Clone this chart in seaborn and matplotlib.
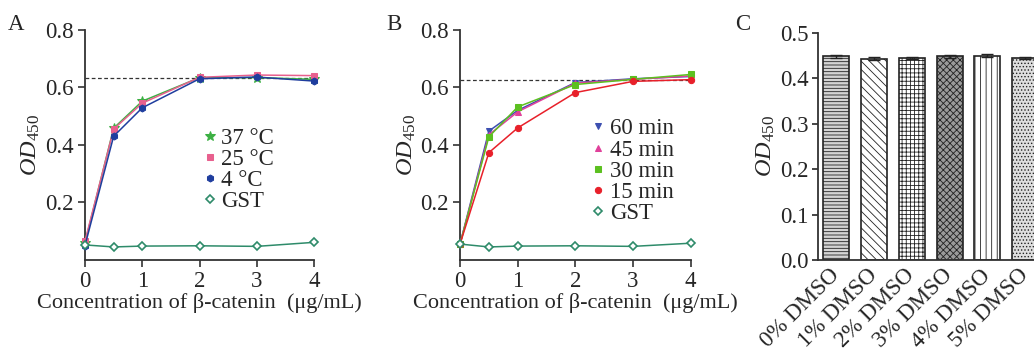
import numpy as np
import pandas as pd
import matplotlib
matplotlib.use('Agg')
import matplotlib.pyplot as plt
import seaborn as sns

# ---- data ----
conc = [0, 0.5, 1, 2, 3, 4]

temp_37 = [0.060, 0.458, 0.552, 0.634, 0.634, 0.628]
temp_25 = [0.065, 0.455, 0.545, 0.635, 0.643, 0.641]
temp_4 = [0.050, 0.430, 0.529, 0.630, 0.636, 0.622]
gst_a = [0.052, 0.045, 0.048, 0.049, 0.047, 0.061]
plateau_a = 0.634

min_60 = [0.055, 0.448, 0.520, 0.617, 0.630, 0.638]
min_45 = [0.055, 0.435, 0.515, 0.615, 0.628, 0.640]
min_30 = [0.055, 0.428, 0.532, 0.610, 0.628, 0.645]
min_15 = [0.055, 0.373, 0.459, 0.582, 0.621, 0.627]
gst_b = [0.055, 0.045, 0.048, 0.049, 0.047, 0.058]
plateau_b = 0.624

dmso_labels = ['0% DMSO', '1% DMSO', '2% DMSO', '3% DMSO', '4% DMSO', '5% DMSO']
dmso_od = [0.449, 0.444, 0.445, 0.449, 0.450, 0.445]
dmso_err = [0.003, 0.004, 0.003, 0.003, 0.003, 0.003]

sns.set_style('ticks')
plt.rcParams['font.family'] = ['Liberation Serif', 'DejaVu Serif']
plt.rcParams['mathtext.fontset'] = 'custom'
plt.rcParams['mathtext.rm'] = 'Liberation Serif'
plt.rcParams['mathtext.it'] = 'Liberation Serif:italic'
plt.rcParams['hatch.linewidth'] = 0.6

ylab = r'$\mathit{OD}_{\mathrm{450}}$'
fs = 16.5

fig = plt.figure(figsize=(10.34, 3.56), dpi=100)
axA = fig.add_axes([0.0822, 0.270, 0.2215, 0.646])
axB = fig.add_axes([0.4449, 0.270, 0.2231, 0.646])
axC = fig.add_axes([0.7911, 0.270, 0.2180, 0.637])


def line_panel(ax, series, gst, plateau):
    ax.axhline(plateau, color='#333333', ls=(0, (3, 2)), lw=0.9, zorder=1)
    for vals, lab, col, mk, ms in series:
        sns.lineplot(x=conc, y=vals, ax=ax, color=col, marker=mk, markersize=ms,
                     markeredgecolor=col, lw=1.1, label=lab, clip_on=False, zorder=3)
    sns.lineplot(x=conc, y=gst, ax=ax, color='#2e8b6a', marker='D', markersize=4.5,
                 markerfacecolor='white', markeredgecolor='#2e8b6a', markeredgewidth=1.2,
                 lw=1.1, label='GST', clip_on=False, zorder=3)
    ax.set_xlim(0, 4)
    ax.set_ylim(0, 0.8)
    ax.set_xticks([0, 1, 2, 3, 4])
    ax.set_yticks([0.2, 0.4, 0.6, 0.8])
    ax.set_yticklabels(['0.2', '0.4', '0.6', '0.8'])
    ax.tick_params(labelsize=fs, direction='out', length=5, width=1.2, color='#333333', pad=3)
    ax.set_xlabel('Concentration of β-catenin  (μg/mL)', fontsize=16, labelpad=1)
    ax.set_ylabel(ylab, fontsize=fs + 1, labelpad=2)
    for s in ['top', 'right']:
        ax.spines[s].set_visible(False)
    for s in ['left', 'bottom']:
        ax.spines[s].set_linewidth(1.3)
        ax.spines[s].set_color('#333333')


def small_legend(ax, x, y):
    leg = ax.legend(loc='upper left', bbox_to_anchor=(x, y), frameon=False, fontsize=fs,
                    handlelength=0.5, handletextpad=0.25, labelspacing=0.0, borderpad=0,
                    borderaxespad=0)
    for ln in leg.get_lines():
        ln.set_linestyle('none')


line_panel(axA, [(temp_37, '37 °C', '#3cb043', '*', 7),
                 (temp_25, '25 °C', '#e8608e', 's', 5),
                 (temp_4, '4 °C', '#1f3d9e', 'h', 5)], gst_a, plateau_a)
small_legend(axA, 0.52, 0.575)

line_panel(axB, [(min_60, '60 min', '#3c4fb0', 'v', 5),
                 (min_45, '45 min', '#e0409a', '^', 5),
                 (min_30, '30 min', '#5cc020', 's', 5),
                 (min_15, '15 min', '#e8202a', 'o', 4.5)], gst_b, plateau_b)
small_legend(axB, 0.575, 0.615)

# ---- panel C ----
df_c = pd.DataFrame({'group': dmso_labels, 'od': dmso_od})
sns.barplot(data=df_c, x='group', y='od', ax=axC, color='white', width=0.69,
            edgecolor='#222222', linewidth=1.2, errorbar=None)
fills = ['#d4d4d4', 'white', 'white', '#9a9a9a', 'white', '#dedede']
hatches = ['-----', '\\\\\\\\', '++++', 'xxxxx', '|||', '.....']
for p, fc, h in zip(axC.patches, fills, hatches):
    p.set_facecolor(fc)
    p.set_hatch(h)
axC.errorbar(range(len(dmso_od)), dmso_od, yerr=dmso_err, fmt='none',
             ecolor='#222222', elinewidth=1, capsize=4, capthick=1)
axC.set_xlim(-0.48, 5.48)
axC.set_ylim(0, 0.5)
axC.set_yticks([0, 0.1, 0.2, 0.3, 0.4, 0.5])
axC.set_yticklabels(['0.0', '0.1', '0.2', '0.3', '0.4', '0.5'])
axC.set_xlabel('')
axC.set_ylabel(ylab, fontsize=fs + 1, labelpad=2)
axC.tick_params(axis='y', labelsize=fs, direction='out', length=4, width=1.2, pad=3)
axC.tick_params(axis='x', labelsize=fs, length=0, pad=9)
plt.setp(axC.get_xticklabels(), rotation=45, ha='right', va='center',
         rotation_mode='anchor')
for s in ['top', 'right']:
    axC.spines[s].set_visible(False)
for s in ['left', 'bottom']:
    axC.spines[s].set_linewidth(1.3)
    axC.spines[s].set_color('#333333')

fig.text(0.008, 0.915, 'A', fontsize=fs)
fig.text(0.374, 0.915, 'B', fontsize=fs)
fig.text(0.711, 0.915, 'C', fontsize=fs)

fig.savefig('out.png', dpi=100)
